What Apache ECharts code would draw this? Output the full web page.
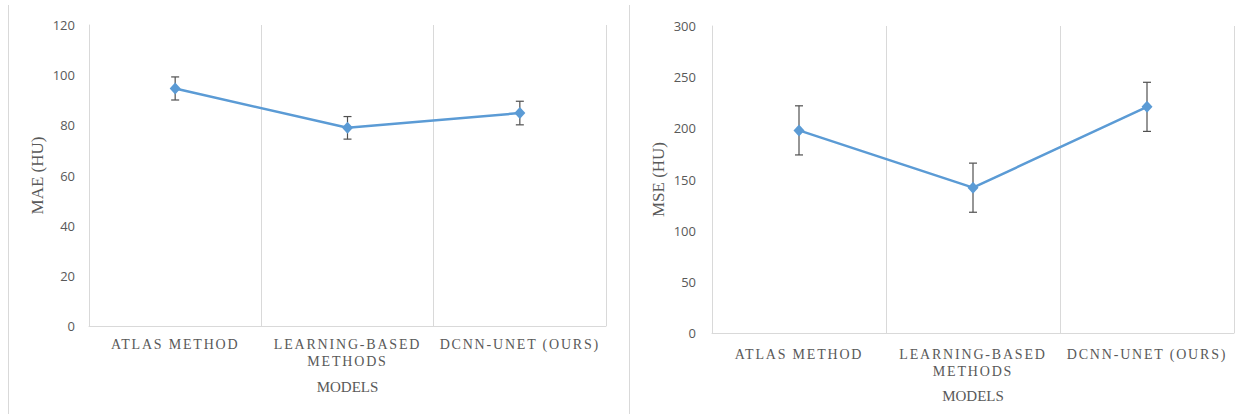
<!DOCTYPE html>
<html>
<head>
<meta charset="utf-8">
<script src="https://cdn.jsdelivr.net/npm/echarts@6/dist/echarts.min.js"></script>
<style>
  html, body { margin: 0; padding: 0; background: #ffffff; }
  #chart { width: 1237px; height: 414px; }
  /* category labels are set in a spaced serif face */
  #chart svg text[style*="Liberation Serif"] { letter-spacing: 1.8px; }
</style>
</head>
<body>
<div id="chart"></div>
<script>
// Model categories shared by both panels
const categories = ['ATLAS METHOD', 'LEARNING-BASED\nMETHODS', 'DCNN-UNET (OURS)'];

// Mean absolute error (HU) and its spread
const maeValues = [94.7, 79.0, 84.9];
const maeErrors = [4.6, 4.5, 4.7];

// Mean squared error (HU) and its spread
const mseValues = [198, 142, 221];
const mseErrors = [24, 24, 24];

// Value axis ranges
const maeAxis = { min: 0, max: 120, interval: 20 };
const mseAxis = { min: 0, max: 300, interval: 50 };

const LINE_BLUE = '#5B9BD5';
const GRID_GRAY = '#D9D9D9';
const TEXT_GRAY = '#595959';

function categoryAxis(gridIndex, labelMargin, nameGap) {
  return {
    type: 'category',
    gridIndex: gridIndex,
    data: categories,
    boundaryGap: true,
    axisLine: { show: true, lineStyle: { color: GRID_GRAY, width: 1 } },
    axisTick: { show: false },
    splitLine: { show: true, lineStyle: { color: GRID_GRAY, width: 1 } },
    axisLabel: {
      interval: 0,
      margin: labelMargin,
      fontFamily: "'Liberation Serif', serif",
      fontSize: 14,
      lineHeight: 17,
      color: TEXT_GRAY
    },
    name: 'MODELS',
    nameLocation: 'middle',
    nameGap: nameGap,
    nameTextStyle: { fontFamily: "'Times New Roman', serif", fontSize: 15, color: TEXT_GRAY }
  };
}

function valueAxis(gridIndex, range, title, labelMargin, nameGap) {
  return {
    type: 'value',
    gridIndex: gridIndex,
    min: range.min,
    max: range.max,
    interval: range.interval,
    axisLine: { show: true, lineStyle: { color: GRID_GRAY, width: 1 } },
    axisTick: { show: false },
    splitLine: { show: false },
    axisLabel: { margin: labelMargin, fontFamily: "'Open Sans', sans-serif", fontSize: 13, color: TEXT_GRAY },
    name: title,
    nameLocation: 'middle',
    nameRotate: 90,
    nameGap: nameGap,
    nameTextStyle: { fontFamily: "'Times New Roman', serif", fontSize: 17, color: TEXT_GRAY }
  };
}

function lineSeries(axisIndex, values) {
  return {
    type: 'line',
    xAxisIndex: axisIndex,
    yAxisIndex: axisIndex,
    data: values,
    z: 3,
    symbol: 'diamond',
    symbolSize: [11, 12],
    showAllSymbol: true,
    lineStyle: { color: LINE_BLUE, width: 2.5 },
    itemStyle: { color: LINE_BLUE, borderWidth: 0 },
    emphasis: { disabled: true }
  };
}

// Vertical error bars with short caps, placed through the axes
function errorSeries(axisIndex, values, errors) {
  return {
    type: 'custom',
    xAxisIndex: axisIndex,
    yAxisIndex: axisIndex,
    z: 2,
    silent: true,
    data: values.map((v, i) => [i, v - errors[i], v + errors[i]]),
    renderItem: function (params, api) {
      const lo = api.coord([api.value(0), api.value(1)]);
      const hi = api.coord([api.value(0), api.value(2)]);
      const cap = 4;
      const style = { stroke: '#505050', lineWidth: 1.2 };
      return {
        type: 'group',
        children: [
          { type: 'line', shape: { x1: lo[0], y1: lo[1], x2: hi[0], y2: hi[1] }, style: style },
          { type: 'line', shape: { x1: hi[0] - cap, y1: hi[1], x2: hi[0] + cap, y2: hi[1] }, style: style },
          { type: 'line', shape: { x1: lo[0] - cap, y1: lo[1], x2: lo[0] + cap, y2: lo[1] }, style: style }
        ]
      };
    }
  };
}

const chart = echarts.init(document.getElementById('chart'), null, { renderer: 'svg' });

chart.setOption({
  animation: false,
  backgroundColor: '#ffffff',
  grid: [
    { left: 89, right: 631, top: 25, bottom: 88, outerBoundsMode: 'none' },
    { left: 712, right: 3, top: 26, bottom: 81, outerBoundsMode: 'none' }
  ],
  xAxis: [
    categoryAxis(0, 10, 53),
    categoryAxis(1, 13, 55)
  ],
  yAxis: [
    valueAxis(0, maeAxis, 'MAE (HU)', 14, 43),
    valueAxis(1, mseAxis, 'MSE (HU)', 16, 45)
  ],
  series: [
    errorSeries(0, maeValues, maeErrors),
    lineSeries(0, maeValues),
    errorSeries(1, mseValues, mseErrors),
    lineSeries(1, mseValues)
  ],
  graphic: [
    // panel frame edges
    { type: 'line', silent: true, shape: { x1: 8.5, y1: 5, x2: 8.5, y2: 414 }, style: { stroke: GRID_GRAY, lineWidth: 1 } },
    { type: 'line', silent: true, shape: { x1: 629.5, y1: 5, x2: 629.5, y2: 414 }, style: { stroke: GRID_GRAY, lineWidth: 1 } }
  ]
});
</script>
</body>
</html>
